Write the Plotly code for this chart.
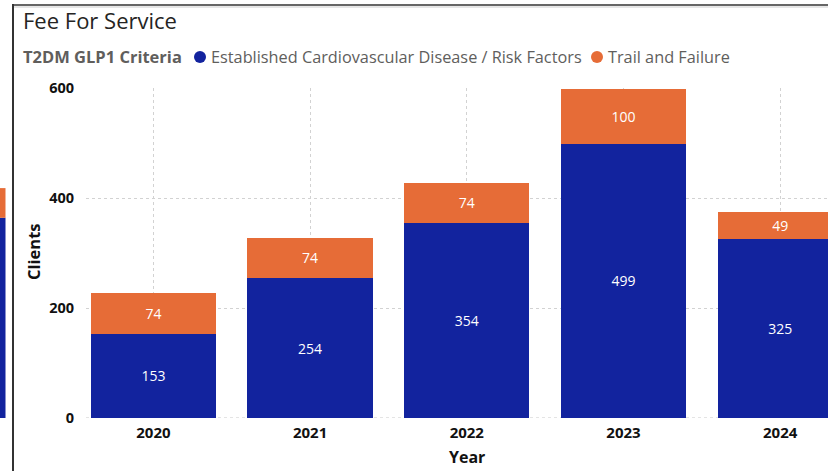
import plotly.graph_objects as go

years = ["2020", "2021", "2022", "2023", "2024"]
established = [153, 254, 354, 499, 325]
trail = [74, 74, 74, 100, 49]
series_names = ["Established Cardiovascular Disease / Risk Factors", "Trail and Failure"]
legend_title = "T2DM GLP1 Criteria"
chart_title = "Fee For Service"
y_ticks = [0, 200, 400, 600]
# partial bar of neighbouring visual (left edge)
neighbour_blue = 364
neighbour_orange = 418

BLUE = "#12239E"
ORANGE = "#E66C37"
FONT = "Segoe UI, Open Sans, sans-serif"

W, H = 828, 471
L, R, T, B = 86, 0, 88, 53
PW = W - L - R
PH = H - T - B

def px(x):
    return (x - L) / PW

def py(y):
    return (H - B - y) / PH

fig = go.Figure()
fig.add_trace(go.Bar(
    x=years, y=established, name=series_names[0], marker_color=BLUE,
    marker_line_width=0, text=[str(v) for v in established],
    textposition="inside", insidetextanchor="middle", textangle=0,
    textfont=dict(color="white", size=14, family=FONT), showlegend=False))
fig.add_trace(go.Bar(
    x=years, y=trail, name=series_names[1], marker_color=ORANGE,
    marker_line_width=0, text=[str(v) for v in trail],
    textposition="inside", insidetextanchor="middle", textangle=0,
    textfont=dict(color="white", size=14, family=FONT), showlegend=False))

fig.update_layout(
    width=W, height=H, barmode="stack", bargap=0.2,
    margin=dict(l=L, r=R, t=T, b=B, pad=0),
    paper_bgcolor="white", plot_bgcolor="white",
    font=dict(family=FONT),
)
fig.update_xaxes(
    type="category", range=[-0.43, 4.305], showgrid=True, gridcolor="#D2D2D2",
    griddash="dot", gridwidth=1, showline=False, zeroline=False,
    ticks="outside", ticklen=1, tickcolor="rgba(0,0,0,0)",
    tickfont=dict(size=15, color="#111111", family=FONT, weight="bold"),
)
fig.update_yaxes(
    range=[0, 600], tickvals=y_ticks, showgrid=True, gridcolor="#D2D2D2",
    griddash="dot", gridwidth=1, zeroline=False, showline=False,
    ticks="outside", ticklen=8, tickcolor="rgba(0,0,0,0)",
    tickfont=dict(size=14.5, color="#111111", family=FONT, weight="bold"),
)
# baseline dotted line at 0
fig.add_shape(type="line", xref="paper", yref="y", x0=0, x1=1, y0=0, y1=0,
              line=dict(color="#C8C8C8", width=1, dash="dot"), layer="below")

# neighbouring visual partial bar
fig.add_shape(type="rect", xref="paper", yref="y", x0=px(0), x1=px(5.5),
              y0=0, y1=neighbour_blue, fillcolor=BLUE, line_width=0)
fig.add_shape(type="rect", xref="paper", yref="y", x0=px(0), x1=px(5.5),
              y0=neighbour_blue, y1=neighbour_orange, fillcolor=ORANGE, line_width=0)

# frame lines
fig.add_shape(type="line", xref="paper", yref="paper", x0=px(13), x1=px(13),
              y0=py(4), y1=py(H + 2), line=dict(color="#333333", width=2))
fig.add_shape(type="line", xref="paper", yref="paper", x0=px(13), x1=px(W + 2),
              y0=py(5), y1=py(5), line=dict(color="#333333", width=1.5))
fig.add_shape(type="line", xref="paper", yref="paper", x0=px(14), x1=px(W + 2),
              y0=py(7), y1=py(7), line=dict(color="#E6E6E6", width=2))

# title
fig.add_annotation(xref="paper", yref="paper", x=px(21), y=py(20), text=chart_title,
                   showarrow=False, xanchor="left", yanchor="middle",
                   font=dict(size=22, color="#252423", family=FONT))
# legend
LEG_Y = py(57)
fig.add_annotation(xref="paper", yref="paper", x=px(21), y=LEG_Y, text=f"<b>{legend_title}</b>",
                   showarrow=False, xanchor="left", yanchor="middle",
                   font=dict(size=16.5, color="#605E5C", family=FONT))
legend_items = [(series_names[0], BLUE, 200, 209), (series_names[1], ORANGE, 597, 606)]
for name, col, cx, tx in legend_items:
    fig.add_shape(type="circle", xref="paper", yref="paper",
                  x0=px(cx - 6), x1=px(cx + 6), y0=py(57 + 6), y1=py(57 - 6),
                  fillcolor=col, line_width=0)
    fig.add_annotation(xref="paper", yref="paper", x=px(tx), y=LEG_Y, text=name,
                       showarrow=False, xanchor="left", yanchor="middle",
                       font=dict(size=16.3, color="#605E5C", family=FONT))
# axis titles
fig.add_annotation(xref="paper", yref="paper", x=px(33), y=py(252), text="<b>Clients</b>",
                   showarrow=False, textangle=-90, xanchor="center", yanchor="middle",
                   font=dict(size=16.5, color="#111111", family=FONT))
fig.add_annotation(xref="x", yref="paper", x=2, y=py(457), text="<b>Year</b>",
                   showarrow=False, xanchor="center", yanchor="middle",
                   font=dict(size=16, color="#111111", family=FONT))

fig.write_html("out.html", config={"displayModeBar": False},
               post_script="document.body.style.margin='0';document.body.style.overflow='hidden';")
